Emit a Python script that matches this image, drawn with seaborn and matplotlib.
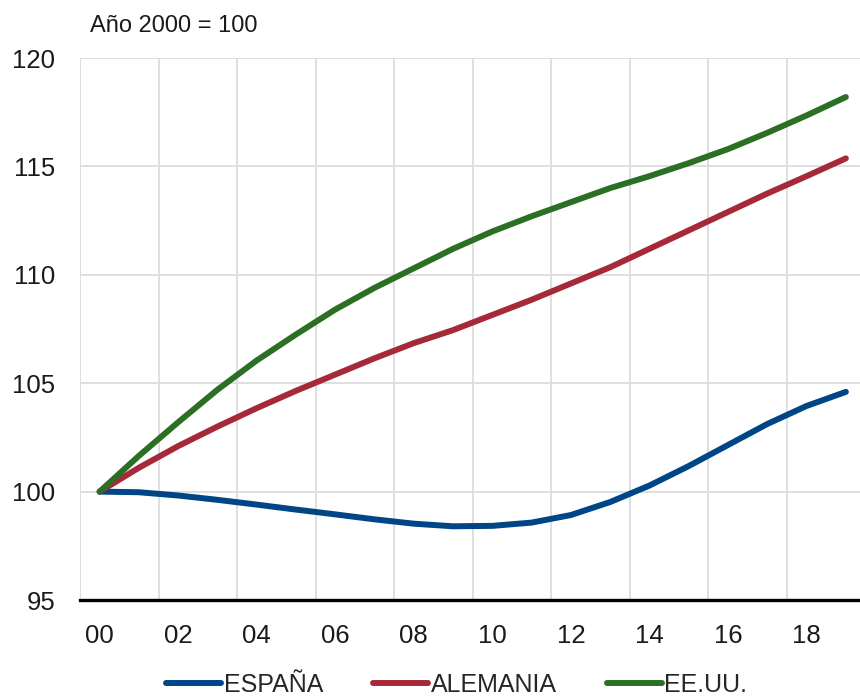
import seaborn as sns
import matplotlib.pyplot as plt
import pandas as pd
from matplotlib.ticker import FixedLocator


years = list(range(2000, 2020))
espana = [100.0, 99.97, 99.82, 99.62, 99.4, 99.17, 98.95, 98.72, 98.52, 98.4,
          98.42, 98.57, 98.92, 99.52, 100.28, 101.18, 102.15, 103.12, 103.95, 104.6]
alemania = [100.0, 101.1, 102.1, 103.0, 103.85, 104.65, 105.4, 106.15, 106.85, 107.45,
            108.15, 108.85, 109.6, 110.35, 111.2, 112.05, 112.9, 113.75, 114.55, 115.37]
eeuu = [100.0, 101.65, 103.2, 104.7, 106.05, 107.25, 108.4, 109.4, 110.3, 111.2,
        112.0, 112.7, 113.35, 114.0, 114.55, 115.15, 115.8, 116.55, 117.35, 118.2]
series = ['ESPAÑA', 'ALEMANIA', 'EE.UU.']
colors = ['#004585', '#A6293A', '#2B6F24']
xtick_years = list(range(2000, 2019, 2))
xtick_labels = ['00', '02', '04', '06', '08', '10', '12', '14', '16', '18']
ytick_values = [95, 100, 105, 110, 115, 120]

df = pd.DataFrame({
    'year': years * 3,
    'value': espana + alemania + eeuu,
    'serie': [s for s in series for _ in years],
})

sns.set_style('white')
plt.rcParams['font.family'] = ['Liberation Sans', 'DejaVu Sans']

fig = plt.figure(figsize=(8.6, 6.99), dpi=100)
ax = fig.add_axes([80 / 860, 1 - 600 / 699, 780 / 860, (600 - 58) / 699])

sns.lineplot(data=df, x='year', y='value', hue='serie', palette=colors,
             hue_order=series, linewidth=4.3, legend=False, ax=ax,
             solid_capstyle='round', solid_joinstyle='round')

ax.set_xlim(1999.5, 2019.36)
ax.set_ylim(95, 120)
ax.set_xticks(xtick_years)
ax.set_xticklabels(xtick_labels)
ax.xaxis.set_minor_locator(FixedLocator([y - 0.5 for y in xtick_years]))
ax.set_yticks(ytick_values)
ax.set_yticklabels([str(v) for v in ytick_values])

ax.grid(False)
ax.xaxis.grid(True, which='minor', color='#DCDCDC', linewidth=1.3)
ax.yaxis.grid(True, which='major', color='#DCDCDC', linewidth=1.3)
ax.set_axisbelow(True)

ax.tick_params(axis='both', which='both', length=0, labelsize=18.5, colors='#1a1a1a')
ax.tick_params(axis='x', pad=17)
ax.tick_params(axis='y', pad=18)
ax.set_xlabel('')
ax.set_ylabel('')

for side in ['top', 'right', 'left']:
    ax.spines[side].set_visible(False)
ax.spines['bottom'].set_color('black')
ax.spines['bottom'].set_linewidth(2.4)
ax.spines['bottom'].set_zorder(5)

fig.text(90 / 860, 1 - 32 / 699, 'Año 2000 = 100', fontsize=17,
         color='#1a1a1a', ha='left', va='baseline')

handles = ax.get_lines()[:3]
fig.legend(handles, series, loc='center', bbox_to_anchor=(0.531, 1 - 685 / 699),
           ncol=3, frameon=False, fontsize=18, handlelength=2.2,
           handletextpad=0.1, columnspacing=2.0, borderaxespad=0,
           borderpad=0.1)

fig.savefig('out.png', dpi=100)
